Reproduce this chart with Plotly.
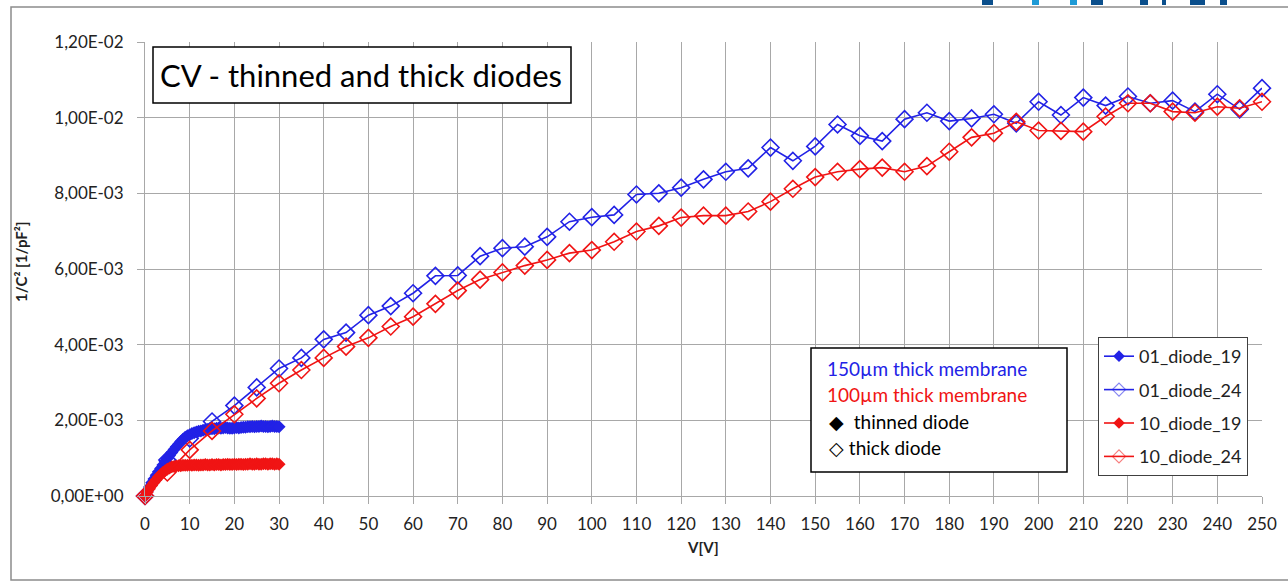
import plotly.graph_objects as go

# ---------------- data (1/C^2 in units of 1E-3 1/pF^2) ----------------
v_thick = list(range(0, 255, 5))
diode01_24 = [0.00, 0.95, 1.52, 1.97, 2.39, 2.87, 3.37, 3.65, 4.14, 4.32,
              4.78, 5.02, 5.36, 5.82, 5.83, 6.34, 6.55, 6.59, 6.85, 7.25,
              7.37, 7.43, 7.97, 8.00, 8.15, 8.37, 8.57, 8.66, 9.21, 8.86,
              9.24, 9.82, 9.52, 9.38, 9.96, 10.13, 9.91, 9.98, 10.09, 9.85,
              10.42, 10.07, 10.53, 10.32, 10.56, 10.38, 10.45, 10.16, 10.62, 10.22,
              10.78]
diode10_24 = [0.00, 0.62, 1.22, 1.72, 2.16, 2.58, 2.98, 3.33, 3.65, 3.95,
              4.18, 4.48, 4.74, 5.08, 5.43, 5.72, 5.91, 6.09, 6.24, 6.42,
              6.50, 6.72, 6.99, 7.14, 7.36, 7.41, 7.41, 7.52, 7.78, 8.12,
              8.43, 8.57, 8.64, 8.68, 8.57, 8.72, 9.10, 9.48, 9.59, 9.89,
              9.66, 9.65, 9.63, 10.03, 10.38, 10.38, 10.16, 10.13, 10.29, 10.25,
              10.42]

v_thin = [i * 0.5 for i in range(61)]
diode01_19 = [0.00, 0.12, 0.24, 0.35, 0.45, 0.55, 0.64, 0.73, 0.82, 0.91,
              0.99, 1.07, 1.15, 1.23, 1.30, 1.37, 1.44, 1.50, 1.55, 1.59,
              1.62, 1.65, 1.67, 1.69, 1.71, 1.72, 1.74, 1.75, 1.76, 1.77,
              1.78, 1.78, 1.79, 1.80, 1.79, 1.80, 1.81, 1.80, 1.79, 1.79,
              1.80, 1.81, 1.80, 1.81, 1.82, 1.82, 1.83, 1.83, 1.84, 1.83,
              1.84, 1.84, 1.85, 1.84, 1.84, 1.83, 1.84, 1.85, 1.84, 1.84,
              1.83]
diode10_19 = [0.00, 0.10, 0.19, 0.28, 0.36, 0.43, 0.50, 0.56, 0.62, 0.67,
              0.71, 0.74, 0.77, 0.78, 0.79, 0.80, 0.80, 0.81, 0.81, 0.81,
              0.82, 0.81, 0.82, 0.82, 0.81, 0.82, 0.82, 0.83, 0.82, 0.82,
              0.83, 0.82, 0.83, 0.83, 0.82, 0.83, 0.83, 0.84, 0.83, 0.83,
              0.84, 0.83, 0.84, 0.84, 0.83, 0.84, 0.84, 0.85, 0.84, 0.84,
              0.85, 0.84, 0.84, 0.85, 0.85, 0.84, 0.85, 0.85, 0.84, 0.85,
              0.84]

y_tickvals = [0, 2, 4, 6, 8, 10, 12]
y_ticktext = ["0,00E+00", "2,00E-03", "4,00E-03", "6,00E-03", "8,00E-03", "1,00E-02", "1,20E-02"]

BLUE = "#2222e6"
RED = "#f01414"
GRID = "#a8a8a8"
FONT = "Lato"

# ---------------- geometry ----------------
W, H = 1288, 585
L, R, T, B = 145, 1262, 42, 496


def px(x):
    return (x - L) / (R - L)


def py(y):
    return (B - y) / (B - T)


fig = go.Figure()

series = [
    ("01_diode_19", v_thin, diode01_19, BLUE, True),
    ("01_diode_24", v_thick, diode01_24, BLUE, False),
    ("10_diode_19", v_thin, diode10_19, RED, True),
    ("10_diode_24", v_thick, diode10_24, RED, False),
]

# plotted curves (legend entries drawn separately with smaller symbols)
for name, xs, ys, col, filled in series:
    if filled:
        mk = dict(symbol="diamond", size=10, color=col)
        lw = 2
    else:
        mk = dict(symbol="diamond-open", size=13, color=col, line=dict(width=1.6))
        lw = 1.6
    fig.add_trace(go.Scatter(x=xs, y=ys, name=name, mode="lines+markers",
                             line=dict(color=col, width=lw), marker=mk,
                             cliponaxis=False, showlegend=False))

# legend-only entries
for i, (name, xs, ys, col, filled) in enumerate(series):
    if filled:
        mk = dict(symbol="diamond", size=9, color=col)
    else:
        mk = dict(symbol="diamond-open", size=10, color=col, opacity=0.55,
                  line=dict(width=1.2))
    fig.add_trace(go.Scatter(x=[None], y=[None], name=name, mode="lines+markers",
                             line=dict(color=col, width=1.6), marker=mk,
                             legendgroup="g%d" % i, showlegend=True))

shapes = []
# outer chart frame
shapes.append(dict(type="rect", xref="paper", yref="paper",
                   x0=px(11), x1=px(1295), y0=py(580), y1=py(7),
                   line=dict(color="#8c8c8c", width=1.5), layer="below"))
# title box
shapes.append(dict(type="rect", xref="paper", yref="paper",
                   x0=px(153), x1=px(571), y0=py(103), y1=py(47),
                   line=dict(color="black", width=1.5), fillcolor="white", layer="above"))
# info box
shapes.append(dict(type="rect", xref="paper", yref="paper",
                   x0=px(811), x1=px(1067), y0=py(472), y1=py(348),
                   line=dict(color="black", width=1.5), fillcolor="white", layer="above"))
# cropped logo fragments at the very top
logo = [(982, 993, "#0b4f8c"), (1032, 1039, "#1e9ad6"), (1070, 1077, "#1e9ad6"),
        (1091, 1103, "#0b4f8c"), (1140, 1148, "#0b4f8c"), (1162, 1166, "#0b4f8c"),
        (1190, 1205, "#0b4f8c"), (1220, 1227, "#0b4f8c")]
for x0, x1, c in logo:
    shapes.append(dict(type="rect", xref="paper", yref="paper",
                       x0=px(x0), x1=px(x1), y0=py(5), y1=py(0),
                       line=dict(width=0), fillcolor=c))

annotations = [
    dict(text="CV - thinned and thick diodes", xref="paper", yref="paper",
         x=px(361), y=py(75), xanchor="center", yanchor="middle", showarrow=False,
         font=dict(family=FONT, size=31, color="black")),
    dict(text="150µm thick membrane", xref="paper", yref="paper",
         x=px(825), y=py(368), xanchor="left", yanchor="middle", showarrow=False,
         font=dict(family=FONT, size=19, color=BLUE)),
    dict(text="100µm thick membrane", xref="paper", yref="paper",
         x=px(825), y=py(394), xanchor="left", yanchor="middle", showarrow=False,
         font=dict(family=FONT, size=19, color=RED)),
    dict(text="◆  thinned diode", xref="paper", yref="paper",
         x=px(827), y=py(421), xanchor="left", yanchor="middle", showarrow=False,
         font=dict(family=FONT, size=19, color="black")),
    dict(text="◇ thick diode", xref="paper", yref="paper",
         x=px(827), y=py(447), xanchor="left", yanchor="middle", showarrow=False,
         font=dict(family=FONT, size=19, color="black")),
    dict(text="<b>1/C² [1/pF²]</b>", xref="paper", yref="paper",
         x=px(21), y=py(262), xanchor="center", yanchor="middle", showarrow=False,
         textangle=-90, font=dict(family=FONT, size=15, color="#222")),
    dict(text="<b>V[V]</b>", xref="paper", yref="paper",
         x=px(703), y=py(547), xanchor="center", yanchor="middle", showarrow=False,
         font=dict(family=FONT, size=15, color="#222")),
]

fig.update_layout(
    width=W, height=H,
    margin=dict(l=L, r=W - R, t=T, b=H - B, pad=0),
    paper_bgcolor="white", plot_bgcolor="white",
    font=dict(family=FONT, color="#222"),
    showlegend=True,
    legend=dict(x=px(1098), y=py(337), xanchor="left", yanchor="top",
                bgcolor="white", bordercolor="#404040", borderwidth=1,
                font=dict(family=FONT, size=18, color="#222"),
                tracegroupgap=7, traceorder="grouped"),
    shapes=shapes,
    annotations=annotations,
    xaxis=dict(range=[0, 250], tick0=0, dtick=10, showgrid=True, gridcolor=GRID,
               gridwidth=1, ticks="outside", ticklen=7, tickcolor=GRID,
               showline=True, linecolor=GRID, linewidth=1, zeroline=False,
               tickfont=dict(family=FONT, size=17, color="#222"),
               ticklabelstandoff=6),
    yaxis=dict(range=[0, 12], tickvals=y_tickvals, ticktext=y_ticktext,
               showgrid=True, gridcolor=GRID, gridwidth=1, ticks="outside",
               ticklen=7, tickcolor=GRID, showline=True, linecolor=GRID,
               linewidth=1, zeroline=False,
               tickfont=dict(family=FONT, size=17, color="#222"),
               ticklabelstandoff=10),
)

fig.write_html("out.html")
